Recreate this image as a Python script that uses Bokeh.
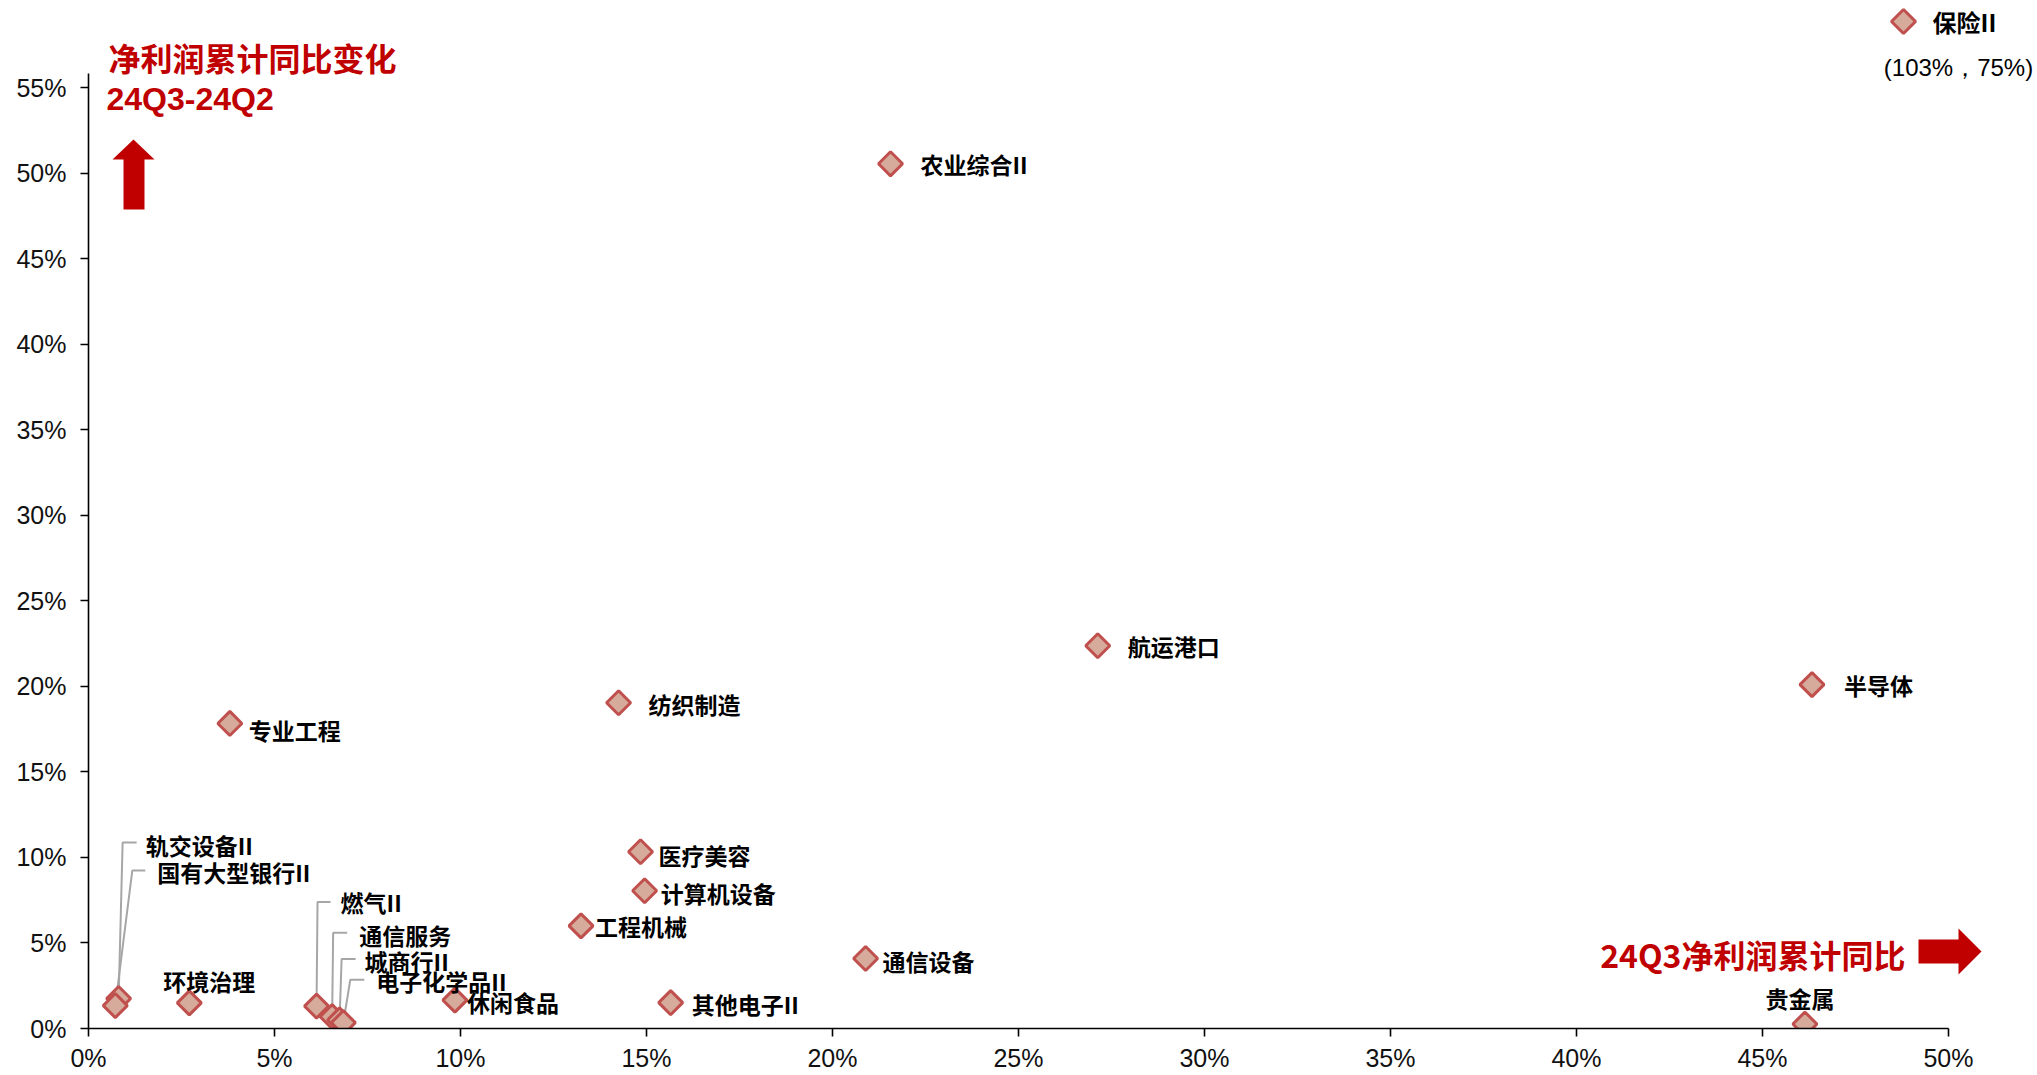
import math
from bokeh.plotting import figure
from bokeh.models import Range1d, FixedTicker, NumeralTickFormatter, Label, ColumnDataSource
from bokeh.embed import file_html
from bokeh.resources import INLINE
from bokeh.core.properties import value

# ---------------- data ----------------
industries = ["农业综合II", "航运港口", "半导体", "纺织制造", "专业工程", "医疗美容",
              "计算机设备", "工程机械", "通信设备", "其他电子II", "休闲食品", "贵金属",
              "环境治理", "轨交设备II", "国有大型银行II", "燃气II", "通信服务",
              "城商行II", "电子化学品II"]
profit_yoy_24q3 = [0.2156, 0.2713, 0.4633, 0.1425, 0.0380, 0.1484,
                   0.1495, 0.1324, 0.2089, 0.1565, 0.0985, 0.4614,
                   0.0271, 0.0081, 0.0072, 0.0613, 0.0655,
                   0.0675, 0.0685]
yoy_change_q3_q2 = [0.5054, 0.2237, 0.2010, 0.1904, 0.1783, 0.1033,
                    0.0805, 0.0600, 0.0409, 0.0151, 0.0166, 0.0026,
                    0.0150, 0.0175, 0.0134, 0.0131, 0.0069,
                    0.0050, 0.0034]

outlier_name = "保险II"
outlier_x = 1.03
outlier_y = 0.75

x_ticks = [0.00, 0.05, 0.10, 0.15, 0.20, 0.25, 0.30, 0.35, 0.40, 0.45, 0.50]
y_ticks = [0.00, 0.05, 0.10, 0.15, 0.20, 0.25, 0.30, 0.35, 0.40, 0.45, 0.50, 0.55]

y_title_1 = "净利润累计同比变化"
y_title_2 = "24Q3-24Q2"
x_title = "24Q3净利润累计同比"

# ---------------- label placement (screen px offsets from point) ----------------
label_dx = [30, 30, 32, 30, 19, 18, 16, 14, 17, 21, 12, -5, 20, 27, 42, 24, 27, 25, 33]
label_dy = [0, 0, 0, 1, 7, 3, 2, 0, 2, 1, 2, -26, -22, -154, -134, -104, -82, -59, -42]
label_center = [False] * 11 + [True, True] + [False] * 6
# leader lines: (corner dx, corner dy, end dx) for some labels
leaders = {
    "轨交设备II": (4, -156, 18),
    "国有大型银行II": (17, -135, 30),
    "燃气II": (1, -104, 14),
    "通信服务": (1, -84, 15),
    "城商行II": (2, -61, 16),
    "电子化学品II": (7, -43, 21),
}

# ---------------- layout ----------------
FIG_W, FIG_H = 2037, 1075
BORDER_L, BORDER_B = 88, 47
FRAME_W = FIG_W - BORDER_L
FRAME_H = FIG_H - BORDER_B
SX0 = BORDER_L
SY0 = FRAME_H
PX_X = (1948 - SX0) / 0.5
PX_Y = (SY0 - 87) / 0.55


def to_x(sx):
    return (sx - SX0) / PX_X


def to_y(sy):
    return (SY0 - sy) / PX_Y


RED = "#c00000"
CJK = "Noto Sans CJK SC"

p = figure(width=FIG_W, height=FIG_H,
           x_range=Range1d(0, FRAME_W / PX_X), y_range=Range1d(0, FRAME_H / PX_Y),
           output_backend="svg", toolbar_location=None,
           min_border_left=BORDER_L, min_border_bottom=BORDER_B,
           min_border_top=0, min_border_right=0)
p.outline_line_color = None
p.grid.visible = False
p.background_fill_color = "white"
p.border_fill_color = "white"

for ax, ticks, bnd in ((p.xaxis, x_ticks, (0, 0.5)), (p.yaxis, y_ticks, (0, 0.558))):
    ax.ticker = FixedTicker(ticks=ticks)
    ax.formatter = NumeralTickFormatter(format="0%")
    ax.bounds = bnd
    ax.axis_line_color = "black"
    ax.axis_line_width = 1.6
    ax.major_tick_line_color = "black"
    ax.major_tick_line_width = 1.6
    ax.major_tick_in = 0
    ax.major_tick_out = 8
    ax.minor_tick_line_color = None
    ax.major_label_text_font = "Liberation Sans"
    ax.major_label_text_font_size = "25px"
    ax.major_label_text_color = "#111111"
p.xaxis.major_label_standoff = 7
p.yaxis.major_label_standoff = 14

# leader lines
lx, ly = [], []
for name, (cdx, cdy, edx) in leaders.items():
    i = industries.index(name)
    x0, y0 = profit_yoy_24q3[i], yoy_change_q3_q2[i]
    lx.append([x0, x0 + cdx / PX_X, x0 + edx / PX_X])
    ly.append([y0, y0 - cdy / PX_Y, y0 - cdy / PX_Y])
p.multi_line(lx, ly, line_color="#a6a6a6", line_width=2)

# points
src = ColumnDataSource(dict(x=profit_yoy_24q3, y=yoy_change_q3_q2, name=industries))
p.scatter("x", "y", source=src, marker="square", angle=math.pi / 4, size=17,
          fill_color="#d6ab9c", line_color="#c0504d", line_width=3)

# labels
for center in (False, True):
    idx = [i for i in range(len(industries)) if label_center[i] == center]
    ls = ColumnDataSource(dict(
        x=[profit_yoy_24q3[i] + label_dx[i] / PX_X for i in idx],
        y=[yoy_change_q3_q2[i] - label_dy[i] / PX_Y for i in idx],
        t=[industries[i] for i in idx]))
    p.text("x", "y", text="t", source=ls, text_font=value(CJK), text_font_style="bold",
           text_font_size="23px", text_color="black",
           text_align="center" if center else "left", text_baseline="middle")

# outlier annotation (保险II)
p.scatter([to_x(1903)], [to_y(21)], marker="square", angle=math.pi / 4, size=17,
          fill_color="#d6ab9c", line_color="#c0504d", line_width=3)
p.add_layout(Label(x=to_x(1932), y=to_y(21), text=outlier_name, text_font=CJK,
                   text_font_style="bold", text_font_size="24px", text_color="black",
                   text_baseline="middle", text_align="left"))
p.add_layout(Label(x=to_x(1958), y=to_y(67), text=f"({outlier_x:.0%}，{outlier_y:.0%})",
                   text_font="Liberation Sans", text_font_size="24px", text_color="black",
                   text_baseline="middle", text_align="center"))

# axis titles
p.add_layout(Label(x=to_x(108), y=to_y(56), text=y_title_1, text_font=CJK,
                   text_font_style="bold", text_font_size="32px", text_color=RED,
                   text_baseline="middle", text_align="left"))
p.add_layout(Label(x=to_x(106), y=to_y(98), text=y_title_2, text_font="Liberation Sans",
                   text_font_style="bold", text_font_size="32px", text_color=RED,
                   text_baseline="middle", text_align="left"))
p.add_layout(Label(x=to_x(1905), y=to_y(953), text=x_title, text_font=CJK,
                   text_font_style="bold", text_font_size="32px", text_color=RED,
                   text_baseline="middle", text_align="right"))

# arrows
up = [(133, 139), (154, 159), (144, 159), (144, 209), (123, 209), (123, 159), (112, 159)]
right = [(1918, 939), (1958, 939), (1958, 928), (1981, 951), (1958, 974), (1958, 963), (1918, 963)]
p.patches([[to_x(a) for a, b in up], [to_x(a) for a, b in right]],
          [[to_y(b) for a, b in up], [to_y(b) for a, b in right]],
          fill_color=RED, line_color=None)

open("out.html", "w").write(file_html(p, INLINE))
